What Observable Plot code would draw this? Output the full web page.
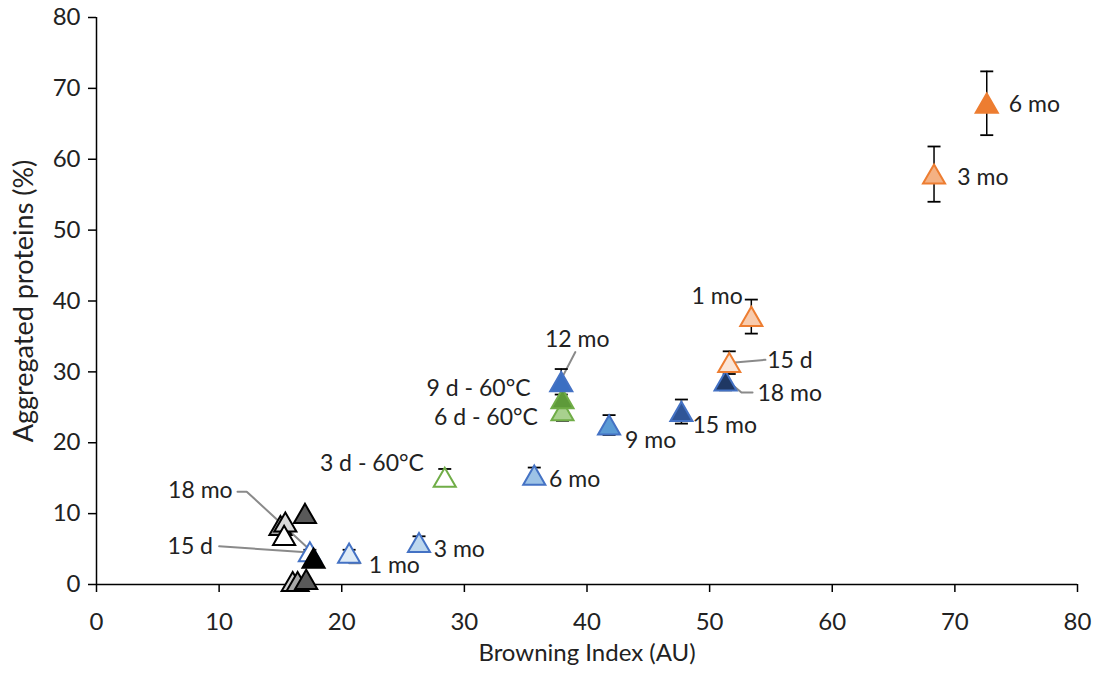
<!DOCTYPE html>
<html>
<head>
<meta charset="utf-8">
<script src="https://cdn.jsdelivr.net/npm/d3@7"></script>
<script src="https://cdn.jsdelivr.net/npm/@observablehq/plot@0.6"></script>
<style>
  html, body { margin: 0; padding: 0; background: #fff; }
  #chart { width: 1101px; height: 675px; }
</style>
</head>
<body>
<div id="chart"></div>
<script>
// ---------- DATA ----------
const xTicks = [0, 10, 20, 30, 40, 50, 60, 70, 80];
const yTicks = [0, 10, 20, 30, 40, 50, 60, 70, 80];

// Orange series
const orangeTimes = ["15 d", "1 mo", "3 mo", "6 mo"];
const orangeX = [51.6, 53.4, 68.3, 72.6];
const orangeY = [31.3, 37.8, 57.9, 67.9];
const orangeErr = [1.6, 2.4, 3.9, 4.5];

// Blue series
const blueTimes = ["15 d", "1 mo", "3 mo", "6 mo", "9 mo", "12 mo", "15 mo", "18 mo"];
const blueX = [17.4, 20.6, 26.3, 35.7, 41.8, 37.9, 47.7, 51.3];
const blueY = [4.6, 4.4, 5.9, 15.4, 22.5, 28.6, 24.4, 28.7];
const blueErr = [0.3, 0.5, 0.9, 1.1, 1.4, 1.8, 1.7, 1.3];

// Green series (60 °C)
const greenTimes = ["3 d", "6 d", "9 d"];
const greenX = [28.4, 38.0, 38.0];
const greenY = [15.1, 24.5, 26.2];
const greenErr = [1.2, 1.4, 1.2];

// Gray series
const grayTimes = ["0 d a", "0 d b", "0 d c", "3 mo", "6 mo", "15 d", "12 mo", "18 mo"];
const grayX = [16.0, 16.4, 17.1, 15.0, 15.4, 15.3, 17.0, 17.7];
const grayY = [0.4, 0.4, 0.7, 8.3, 8.8, 6.9, 10.0, 3.7];

// Annotation texts
const annoText = ["6 mo", "3 mo", "1 mo", "15 d", "18 mo", "15 mo", "9 mo", "12 mo",
  "9 d - 60°C", "6 d - 60°C", "3 d - 60°C", "6 mo", "3 mo", "1 mo", "18 mo", "15 d"];

// ---------- STYLES / LAYOUT ----------
const orangeFill = ["#FBE5D6", "#F8CBAD", "#F4B183", "#ED7D31"];
const blueFill = ["#FFFFFF", "#DEEBF7", "#BDD7EE", "#9DC3E6", "#5B9BD5", "#3B6FC2", "#2F5597", "#1F3864"];
const greenFill = ["#FFFFFF", "#A9D18E", "#5E9A3A"];
const grayFill = ["#D0D0D0", "#A6A6A6", "#595959", "#A6A6A6", "#D9D9D9", "#FFFFFF", "#595959", "#000000"];

// annotation anchor positions (data units) and text anchors
const annoPos = [
  [74.4, 67.7, "start"], [70.2, 57.4, "start"], [52.7, 40.6, "end"], [54.7, 31.6, "start"],
  [53.9, 26.9, "start"], [48.6, 22.4, "start"], [43.1, 20.3, "start"], [39.2, 34.5, "middle"],
  [35.4, 27.6, "end"], [36.0, 23.6, "end"], [26.7, 17.0, "end"], [36.9, 14.8, "start"],
  [27.5, 4.9, "start"], [22.2, 2.7, "start"], [11.1, 13.2, "end"], [9.5, 5.3, "end"]
];
const leaders = [
  [[11.5, 13.1], [12.25, 13.1], [17.7, 4.4]],
  [[10.0, 5.4], [17.4, 4.5]],
  [[20.6, 4.2], [20.6, 3.0], [21.5, 3.0]],
  [[39.05, 32.8], [37.85, 28.8]],
  [[54.55, 31.7], [51.8, 31.3]],
  [[51.4, 28.8], [52.6, 27.1], [53.5, 27.1]]
];

// ---------- BUILD ----------
function series(name, times, xs, ys, errs, fills, stroke) {
  return times.map((t, i) => ({series: name, time: t, x: xs[i], y: ys[i], err: errs ? errs[i] : 0, fill: fills[i], stroke}));
}
const green = series("green", greenTimes, greenX, greenY, greenErr, greenFill, "#70AD47");
const blue = series("blue", blueTimes, blueX, blueY, blueErr, blueFill, "#4472C4");
const gray = series("gray", grayTimes, grayX, grayY, null, grayFill, "#000000");
const orange = series("orange", orangeTimes, orangeX, orangeY, orangeErr, orangeFill, "#ED7D31");
const pts = [...green, ...blue, ...gray, ...orange];

const withErr = pts.filter(d => d.err > 0);
const caps = withErr.flatMap(d => [{x: d.x, y: d.y - d.err}, {x: d.x, y: d.y + d.err}]);
const capSymbol = { draw(ctx) { ctx.moveTo(-6.5, 0); ctx.lineTo(6.5, 0); } };

const annos = annoText.map((t, i) => ({text: t, x: annoPos[i][0], y: annoPos[i][1], anchor: annoPos[i][2]}));
const leaderPts = leaders.flatMap((l, k) => l.map(p => ({id: k, x: p[0], y: p[1]})));

const FONT = "Lato, 'Open Sans', sans-serif";
const annoMarks = ["start", "middle", "end"].map(a =>
  Plot.text(annos.filter(d => d.anchor === a), { x: "x", y: "y", text: "text", textAnchor: a, fontSize: 23, fill: "#222" })
);

const chart = Plot.plot({
  width: 1101,
  height: 675,
  marginLeft: 96,
  marginRight: 24,
  marginTop: 17,
  marginBottom: 91,
  style: { fontFamily: FONT, fontSize: "24px", color: "#222", background: "#fff" },
  x: { domain: [0, 80] },
  y: { domain: [0, 80] },
  marks: [
    Plot.axisX({ ticks: xTicks, tickSize: 8, tickPadding: 20, label: null, fontSize: 24, stroke: "#000", strokeWidth: 1.5 }),
    Plot.axisY({ ticks: yTicks, tickSize: 8, tickPadding: 8, label: null, fontSize: 24, stroke: "#000", strokeWidth: 1.5 }),
    Plot.ruleY([0], { stroke: "#000", strokeWidth: 1.5 }),
    Plot.ruleX([0], { stroke: "#000", strokeWidth: 1.5 }),
    Plot.text(["Browning Index (AU)"], { frameAnchor: "bottom", dy: 76, fontSize: 24, fill: "#222" }),
    Plot.text(["Aggregated proteins (%)"], { frameAnchor: "left", textAnchor: "middle", dx: -72, rotate: -90, fontSize: 27, fill: "#222" }),
    Plot.line(leaderPts, { x: "x", y: "y", z: "id", stroke: "#8a8a8a", strokeWidth: 2 }),
    Plot.ruleX(withErr, { x: "x", y1: d => d.y - d.err, y2: d => d.y + d.err, stroke: "#000", strokeWidth: 1.5 }),
    Plot.dot(caps, { x: "x", y: "y", symbol: capSymbol, stroke: "#000", strokeWidth: 1.8, fill: "none" }),
    Plot.dot(pts, { x: "x", y: "y", symbol: "triangle", r: 8.2, dy: 3, fill: d => d.fill, stroke: d => d.stroke, strokeWidth: 2 }),
    ...annoMarks
  ]
});
document.getElementById("chart").appendChild(chart);
</script>
</body>
</html>
